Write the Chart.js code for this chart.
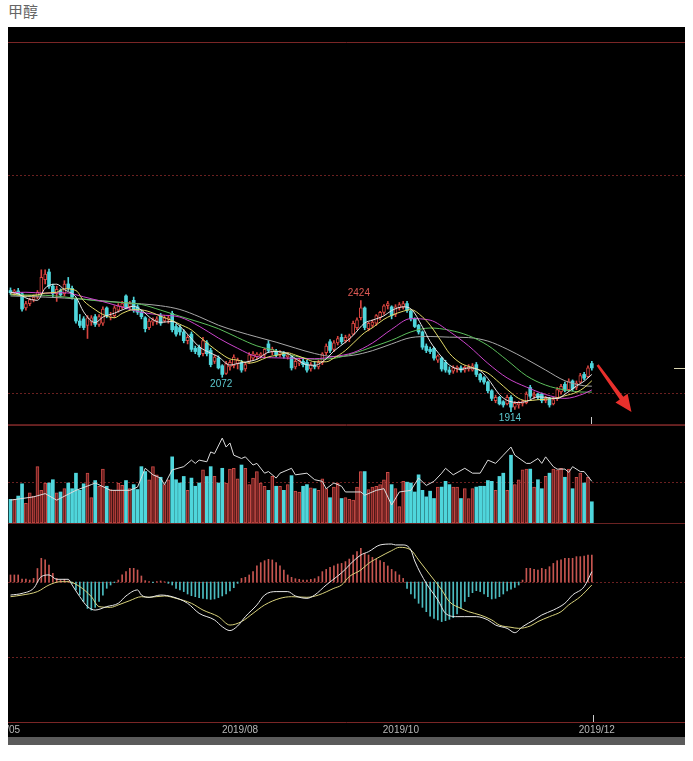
<!DOCTYPE html>
<html><head><meta charset="utf-8">
<script src="https://cdn.jsdelivr.net/npm/chart.js@4.4.1/dist/chart.umd.min.js"></script>
<style>
html,body{margin:0;padding:0;background:#fff;width:693px;height:761px;overflow:hidden}
#title{position:absolute;left:8px;top:0px;font:15px "Noto Sans CJK SC",sans-serif;color:#666;line-height:22px}
#panel{position:absolute;left:8px;top:27px;width:677px;height:718px;background:#000}
#panel canvas{position:absolute;left:0}
#scroll{position:absolute;left:0;top:710px;width:677px;height:8px;background:#5b5b5b}
</style></head><body>
<div id="title">甲醇</div>
<div id="panel">
<canvas id="cPrice" width="677" height="398" style="top:0"></canvas>
<canvas id="cVol" width="677" height="98" style="top:398px"></canvas>
<canvas id="cMacd" width="677" height="214" style="top:496px"></canvas>
<div id="scroll"></div>
</div>
<script>
// ---------- data ----------
const opens = [2470,2460,2468,2455,2390,2410,2428,2440,2455,2520,
2555,2490,2455,2470,2455,2500,2480,2430,2330,2340,
2310,2325,2350,2315,2320,2390,2350,2355,2380,2395,
2445,2395,2425,2395,2370,2345,2300,2325,2330,2355,
2330,2340,2365,2305,2300,2280,2240,2270,2205,2210,
2180,2230,2195,2145,2160,2125,2090,2120,2125,2135,
2140,2110,2145,2160,2165,2170,2175,2225,2190,2190,
2175,2180,2165,2165,2120,2135,2145,2140,2110,2125,
2120,2140,2185,2235,2200,2230,2255,2240,2250,2270,
2300,2345,2390,2295,2310,2320,2345,2370,2400,2395,
2360,2390,2395,2410,2375,2340,2310,2280,2215,2200,
2205,2150,2160,2140,2105,2100,2110,2115,2105,2110,
2105,2130,2085,2070,2050,2010,1965,1980,1960,1950,
1980,1935,1945,1952,1955,2025,1985,1995,1995,1965,
1975,1950,1975,2005,2040,2015,2055,2025,2050,2085,
2075,2135];
const highs = [2482,2475,2480,2460,2420,2435,2450,2470,2565,2565,
2568,2500,2490,2478,2515,2530,2490,2435,2360,2350,
2355,2355,2360,2360,2395,2395,2370,2400,2410,2420,
2450,2420,2440,2405,2380,2350,2340,2345,2350,2365,
2355,2352,2375,2315,2310,2290,2265,2280,2215,2220,
2255,2240,2205,2175,2170,2130,2145,2150,2175,2160,
2150,2140,2185,2190,2185,2185,2205,2240,2210,2200,
2195,2190,2185,2170,2155,2160,2160,2150,2140,2145,
2150,2185,2225,2245,2240,2260,2270,2265,2270,2330,
2345,2424,2395,2325,2335,2360,2375,2405,2420,2400,
2405,2415,2420,2420,2380,2345,2315,2285,2225,2210,
2210,2175,2165,2150,2120,2125,2125,2125,2125,2130,
2135,2140,2090,2075,2055,2015,1990,1985,1965,1990,
1988,1960,1962,1968,2005,2035,2005,2000,2000,1985,
1980,1980,2025,2040,2050,2065,2060,2055,2090,2095,
2125,2145];
const lows = [2452,2448,2450,2375,2380,2400,2418,2432,2450,2500,
2480,2440,2420,2440,2445,2470,2430,2320,2300,2290,
2250,2310,2305,2305,2310,2345,2335,2345,2370,2385,
2385,2380,2370,2360,2340,2280,2290,2310,2315,2310,
2325,2320,2280,2260,2265,2230,2225,2190,2180,2165,
2170,2170,2120,2135,2110,2072,2085,2105,2115,2110,
2095,2100,2135,2150,2155,2160,2165,2185,2175,2165,
2165,2160,2155,2105,2110,2125,2120,2095,2100,2110,
2110,2130,2175,2185,2190,2220,2225,2230,2235,2265,
2290,2335,2290,2285,2300,2310,2335,2360,2385,2340,
2350,2380,2385,2370,2330,2300,2270,2200,2185,2180,
2150,2140,2100,2095,2085,2090,2095,2095,2095,2100,
2100,2075,2050,2040,2000,1965,1955,1945,1935,1945,
1914,1925,1930,1940,1950,1975,1975,1970,1955,1955,
1935,1945,1965,1995,2005,2010,2010,2015,2045,2060,
2070,2105];
const closes = [2460,2468,2455,2385,2410,2428,2440,2462,2530,2545,
2490,2455,2475,2450,2500,2480,2440,2330,2310,2300,
2345,2345,2315,2350,2385,2355,2352,2390,2400,2410,
2390,2410,2380,2370,2350,2295,2330,2335,2340,2320,
2345,2345,2290,2270,2280,2240,2255,2200,2190,2175,
2240,2180,2130,2165,2115,2085,2135,2140,2165,2150,
2105,2130,2175,2180,2178,2180,2200,2195,2200,2175,
2185,2170,2175,2115,2145,2150,2130,2105,2130,2120,
2140,2180,2215,2195,2230,2250,2235,2255,2262,2320,
2335,2390,2300,2320,2325,2355,2370,2400,2410,2355,
2395,2405,2410,2380,2340,2305,2280,2210,2195,2190,
2160,2170,2110,2105,2095,2115,2118,2105,2118,2120,
2125,2085,2060,2050,2010,1975,1980,1950,1945,1980,
1935,1952,1955,1960,1995,1985,1995,1980,1965,1975,
1945,1970,2015,2030,2012,2055,2020,2045,2080,2068,
2115,2115];

const ma5Pts = [[0,2462],[2,2455],[4,2436],[7,2425],[9,2481],[12,2499],[14,2474],[17,2440],[19,2372],[22,2323],[24,2348],[27,2366],[29,2381],[32,2398],[34,2380],[37,2336],[39,2324],[42,2328],[44,2306],[47,2249],[49,2212],[52,2183],[54,2166],[57,2128],[59,2135],[62,2145],[64,2154],[67,2187],[69,2190],[72,2181],[74,2158],[77,2129],[79,2127],[82,2157],[84,2192],[87,2233],[89,2264],[92,2321],[94,2334],[97,2354],[99,2378],[102,2395],[104,2386],[107,2303],[109,2236],[112,2165],[114,2128],[117,2108],[119,2115],[122,2102],[124,2066],[127,1993],[129,1966],[132,1956],[134,1961],[137,1982],[139,1980],[142,1974],[144,1994],[147,2032],[149,2054],[151,2085]];
const ma10Pts = [[0,2455],[4,2445],[7,2450],[9,2458],[12,2462],[14,2478],[17,2470],[19,2423],[22,2382],[24,2360],[27,2345],[29,2365],[32,2382],[34,2381],[37,2367],[39,2352],[42,2332],[44,2315],[47,2289],[49,2259],[52,2216],[54,2189],[57,2156],[59,2151],[62,2137],[64,2144],[67,2166],[69,2172],[72,2184],[74,2174],[77,2155],[79,2143],[82,2143],[84,2160],[87,2195],[89,2228],[92,2277],[94,2299],[97,2338],[99,2356],[102,2375],[104,2382],[107,2349],[109,2311],[112,2234],[114,2182],[117,2136],[119,2122],[122,2105],[124,2091],[127,2047],[129,2016],[132,1975],[134,1964],[137,1969],[139,1971],[142,1978],[144,1987],[147,2003],[149,2024],[151,2056]];
const ma20Pts = [[0,2460],[4,2462],[9,2458],[14,2460],[19,2441],[24,2419],[29,2394],[34,2370],[39,2358],[44,2348],[49,2306],[54,2252],[59,2205],[64,2167],[69,2161],[74,2159],[79,2157],[84,2167],[89,2185],[94,2229],[99,2292],[104,2341],[109,2334],[114,2282],[119,2216],[124,2136],[129,2069],[134,2027],[139,1993],[144,1975],[149,1997],[151,2014]];
const ma30Pts = [[0,2450],[9,2448],[19,2430],[24,2420],[29,2415],[34,2406],[39,2380],[44,2352],[49,2325],[54,2295],[59,2254],[64,2216],[69,2194],[74,2169],[79,2155],[84,2159],[89,2181],[94,2211],[99,2242],[104,2280],[109,2298],[114,2288],[119,2263],[124,2218],[129,2150],[134,2079],[139,2036],[144,2014],[149,2004],[151,2004]];
const ma40Pts = [[0,2445],[9,2440],[19,2430],[29,2415],[39,2400],[44,2383],[49,2350],[54,2311],[59,2282],[64,2257],[69,2233],[74,2206],[79,2181],[84,2167],[89,2173],[94,2194],[99,2225],[104,2254],[109,2259],[114,2256],[119,2254],[124,2238],[129,2201],[134,2155],[139,2105],[144,2056],[149,2033],[151,2031]];

const volumes = [29,29,33,48,24,37,33,69,40,49,
49,53,37,38,42,49,42,61,40,48,
61,31,52,45,66,45,41,40,49,46,
52,42,47,41,69,63,53,69,59,56,
47,53,81,53,49,57,40,55,45,49,
65,57,69,57,49,67,49,66,67,54,
71,67,47,55,63,49,45,40,57,45,
45,40,47,58,39,38,45,47,43,42,
40,54,42,31,44,49,30,31,29,28,
44,63,63,41,44,45,47,53,62,47,
42,20,51,50,49,38,59,40,32,39,
30,44,44,51,47,44,44,30,42,30,
42,44,45,45,52,51,40,57,61,40,
83,47,53,65,66,66,44,53,42,57,
61,66,65,67,56,66,42,56,61,49,
56,26];
const openInterestPts = [[0,28],[6,32],[9,36],[12,28],[17,40],[21,47],[22,49],[26,40],[31,40],[33,44],[35,67],[37,59],[39,55],[40,47],[42,65],[45,69],[47,77],[48,73],[49,77],[51,75],[52,87],[53,85],[55,104],[56,93],[57,98],[58,83],[60,79],[61,81],[63,71],[64,73],[66,61],[67,63],[69,55],[70,61],[73,67],[74,59],[77,61],[79,53],[81,51],[82,42],[84,49],[86,45],[87,38],[91,38],[92,34],[95,40],[97,42],[99,22],[101,38],[104,40],[106,55],[108,46],[110,51],[112,61],[113,67],[115,59],[118,67],[120,61],[122,61],[124,77],[126,73],[128,83],[130,93],[131,83],[134,73],[135,73],[137,79],[138,73],[139,81],[141,69],[142,66],[144,66],[145,62],[146,69],[148,63],[149,63],[151,51]];

const macdHist = [4.7,4.7,4.7,2,2,1.3,2.4,9,15.8,14.7,
11.3,5.8,2.4,1.3,1.8,0.7,-0.9,-5.3,-8.7,-13,
-17.6,-18.7,-16.9,-13,-8.7,-4.2,-2,-0.4,1.3,4.7,
6.9,9.1,9.1,8,4,0.9,0.2,-0.4,0.3,0.7,
0.2,-0.9,-2,-4.2,-5.3,-6.4,-8,-9.1,-9.8,-10.4,
-10.9,-11.3,-11.6,-11.3,-10.4,-9.3,-8,-6,-3.8,-0.9,
2.4,3.1,4.7,6.9,10.7,12.9,14.2,15.1,14.7,12.9,
10.7,8,4.7,3.1,2.2,1.8,1.3,1.3,1.8,2.2,
3.6,6.9,8.4,9.8,10.7,12,12.4,13.6,15.3,18,
20.2,22.4,19.1,18,16.4,15.1,14.2,13.1,10.7,8.4,
6.9,4.7,2.4,-4.2,-8,-10.9,-14.2,-16.9,-19.8,-22.7,
-24.2,-25.3,-26.4,-25.8,-24.9,-23.8,-21.3,-17.6,-13,-9.8,
-7.1,-5.8,-6.4,-8,-9.8,-11.3,-10.9,-9.8,-8,-6,
-4.7,-3.6,-2,1.3,9.1,9.1,8.4,8,9.1,8.4,
10.2,12.4,14.2,14.7,15.8,15.8,15.8,16.9,16.9,17.3,
18,18];
const difPts = [[0,-8.7],[3,-7.6],[6,-4.2],[8,3.6],[10,4.7],[12,1.8],[15,1.8],[16,-2],[18,-9.8],[20,-16.4],[22,-18.7],[25,-16.4],[28,-14.2],[30,-9.3],[33,-5.3],[34,-8.7],[36,-10.2],[39,-8.7],[42,-9.8],[46,-14.2],[49,-20.9],[53,-25.3],[55,-29.8],[57,-32.4],[59,-29.3],[61,-23.1],[64,-15.3],[66,-8.7],[69,-6.4],[72,-6.4],[74,-9.3],[77,-10.9],[79,-8.7],[82,-2],[85,4],[87,8.5],[88,11.3],[91,18],[93,20.2],[96,24.7],[99,25.3],[100,24.7],[102,24.7],[104,21.3],[105,14],[108,-0.9],[111,-12],[113,-20.9],[116,-23.1],[118,-23.1],[121,-23.1],[124,-25.3],[126,-28.7],[129,-30.9],[131,-33.8],[133,-29.8],[136,-25.3],[138,-22],[141,-18.7],[144,-14.2],[146,-8.7],[149,-3.1],[151,6.9]];
const deaPts = [[0,-9.8],[3,-8.7],[7,-6.4],[10,-2],[13,0.2],[15,0.2],[18,-3.1],[21,-9.8],[23,-16.4],[26,-16.9],[28,-15.3],[31,-12.4],[34,-9.8],[36,-10.2],[40,-9.3],[43,-10.9],[47,-14.2],[50,-18.7],[54,-23.1],[57,-28.7],[60,-26.4],[63,-20.9],[66,-15.3],[70,-10.9],[73,-9.8],[77,-10.2],[80,-8.7],[84,-4.2],[86,-2],[88,3.6],[91,8],[93,12.4],[96,16.9],[99,20.9],[101,23.1],[104,21.3],[106,14.7],[109,4.7],[112,-5.3],[114,-13.1],[117,-17.6],[119,-19.8],[122,-22],[125,-25.3],[127,-28.7],[130,-30.2],[132,-30.9],[135,-29.3],[137,-26.4],[140,-23.1],[143,-19.8],[145,-15.3],[148,-9.8],[151,-2]];

const dateTickIdx = [-2.2, 59.6, 101.4, 152.3];
const dateTickLabels = ['2019/05','2019/08','2019/10','2019/12'];
const priceGridValues = [2000, 3000];
const volGridValues = [50];
const macdGridValues = [0, -50];
const extremeMarks = [{i:91, kind:'high'}, {i:55, kind:'low'}, {i:130, kind:'low'}];

// ---------- styling ----------
const X_MIN = -0.65, X_MAX = 175.2;
const RED = '#d7443f', CYAN = '#4fd6dc';
const GRID_DOT = '#6a2020', BORDER = '#7a2626';
const isUp = closes.map((c, i) => c >= opens[i]);
const pts = arr => arr.map(p => ({x: p[0], y: p[1]}));

function hline(ctx, x0, x1, y, color, dash, w) {
  ctx.save();
  ctx.strokeStyle = color; ctx.lineWidth = w || 1; ctx.setLineDash(dash || []);
  ctx.beginPath(); ctx.moveTo(x0, Math.round(y) + 0.5); ctx.lineTo(x1, Math.round(y) + 0.5); ctx.stroke();
  ctx.restore();
}
function vline(ctx, x, y0, y1, color) {
  ctx.save(); ctx.strokeStyle = color; ctx.lineWidth = 1;
  ctx.beginPath(); ctx.moveTo(Math.round(x) + 0.5, y0); ctx.lineTo(Math.round(x) + 0.5, y1); ctx.stroke();
  ctx.restore();
}
function lineDs(data, color, yAxisID, mono) {
  return {type: 'line', data: pts(data), borderColor: color, borderWidth: 1, pointRadius: 0,
    fill: false, yAxisID: yAxisID, order: 0, cubicInterpolationMode: mono ? 'monotone' : 'default', tension: 0};
}
function makeChart(id, datasets, yScales, plugin, padBottom) {
  const scales = {x: {type: 'linear', min: X_MIN, max: X_MAX, offset: false, display: false}};
  Object.assign(scales, yScales);
  return new Chart(document.getElementById(id), {
    type: 'bar',
    data: {datasets},
    options: {
      responsive: false, animation: false, devicePixelRatio: 1, events: [],
      layout: {padding: {left: 0, right: 0, top: 0, bottom: padBottom || 0}},
      plugins: {legend: {display: false}, tooltip: {enabled: false}},
      scales
    },
    plugins: [plugin]
  });
}

// ---------- price panel ----------
const pricePlugin = {
  id: 'priceDeco',
  beforeDatasetsDraw(chart) {
    const {ctx, width, scales: {y}} = chart;
    hline(ctx, 0, width, 15, BORDER);
    priceGridValues.forEach(v => hline(ctx, 0, width, y.getPixelForValue(v), GRID_DOT, [2, 2]));
    hline(ctx, 0, width, chart.height - 1, '#5e1e1e');
  },
  afterDatasetsDraw(chart) {
    const {ctx, width, height, scales: {x, y}} = chart;
    ctx.save();
    ctx.font = '10px "Liberation Sans", Arial, sans-serif';
    ctx.textAlign = 'center';
    extremeMarks.forEach(m => {
      const px = x.getPixelForValue(m.i);
      if (m.kind === 'high') {
        ctx.fillStyle = '#e05a55'; ctx.textBaseline = 'bottom';
        ctx.fillText(String(highs[m.i]), px - 2, y.getPixelForValue(highs[m.i]) - 2);
      } else {
        ctx.fillStyle = '#5cc9d0'; ctx.textBaseline = 'top';
        ctx.fillText(String(lows[m.i]), px - 1, y.getPixelForValue(lows[m.i]) + 2);
      }
    });
    // arrow annotation
    const x0 = x.getPixelForValue(152.5), y0 = y.getPixelForValue(2128);
    const x1 = x.getPixelForValue(161.3), y1 = y.getPixelForValue(1913);
    const dx = x1 - x0, dy = y1 - y0, L = Math.hypot(dx, dy), ux = dx / L, uy = dy / L, nx = -uy, ny = ux;
    const hl = 17, hw = 7.5, sw = 2.2;
    const bx = x1 - ux * hl, by = y1 - uy * hl;
    ctx.fillStyle = '#e8302c';
    ctx.beginPath();
    ctx.moveTo(x0 + nx * 1.2, y0 + ny * 1.2);
    ctx.lineTo(bx + nx * sw, by + ny * sw);
    ctx.lineTo(bx + nx * hw, by + ny * hw);
    ctx.lineTo(x1, y1);
    ctx.lineTo(bx - nx * hw, by - ny * hw);
    ctx.lineTo(bx - nx * sw, by - ny * sw);
    ctx.lineTo(x0 - nx * 1.2, y0 - ny * 1.2);
    ctx.closePath(); ctx.fill();
    // last price marker & current-bar tick
    const last = closes.length - 1;
    hline(ctx, width - 11, width, y.getPixelForValue(closes[last]), '#d8d4b0');
    vline(ctx, x.getPixelForValue(last) - 1, height - 8, height - 1, '#cccccc');
    ctx.restore();
  }
};
makeChart('cPrice', [
  lineDs(ma5Pts, '#e6e6e6', 'y', true),
  lineDs(ma10Pts, '#e4dc6a', 'y', true),
  lineDs(ma20Pts, '#cc44cc', 'y', true),
  lineDs(ma30Pts, '#5cbf5c', 'y', true),
  lineDs(ma40Pts, '#a8a8a8', 'y', true),
  {type: 'bar', data: opens.map((o, i) => ({x: i, y: [o, closes[i]]})), grouped: false, barThickness: 3,
   backgroundColor: isUp.map(u => u ? '#000' : CYAN), borderColor: isUp.map(u => u ? RED : CYAN),
   borderWidth: isUp.map(u => u ? 1 : 0), borderSkipped: false, order: 1},
  {type: 'bar', data: lows.map((l, i) => ({x: i, y: [l, highs[i]]})), grouped: false, barThickness: 1,
   backgroundColor: isUp.map(u => u ? RED : CYAN), borderWidth: 0, order: 2}
], {y: {type: 'linear', min: 1853, max: 3679, display: false}}, pricePlugin, 0);

// ---------- volume panel ----------
const volPlugin = {
  id: 'volDeco',
  beforeDatasetsDraw(chart) {
    const {ctx, width, scales: {y}} = chart;
    hline(ctx, 0, width, 0, '#6a2222');
    volGridValues.forEach(v => hline(ctx, 0, width, y.getPixelForValue(v), GRID_DOT, [2, 2]));
  }
};
makeChart('cVol', [
  lineDs(openInterestPts, '#dcdcdc', 'yOI', false),
  {type: 'bar', data: volumes.map((v, i) => ({x: i, y: v})), grouped: false, barThickness: 3,
   backgroundColor: isUp.map(u => u ? '#6a1e1e' : CYAN), borderColor: isUp.map(u => u ? '#c94a45' : CYAN),
   borderWidth: isUp.map(u => u ? 1 : 0), borderSkipped: false, order: 1}
], {
  y: {type: 'linear', min: 0, max: 120, display: false},
  yOI: {type: 'linear', min: 0, max: 120, display: false}
}, volPlugin, 0);

// ---------- MACD panel ----------
const macdPlugin = {
  id: 'macdDeco',
  beforeDatasetsDraw(chart) {
    const {ctx, width, chartArea, scales: {y}} = chart;
    hline(ctx, 0, width, 0, '#6a2222');
    macdGridValues.forEach(v => hline(ctx, 0, width, y.getPixelForValue(v), GRID_DOT, [2, 2]));
    hline(ctx, 0, width, chartArea.bottom, BORDER);
  },
  afterDatasetsDraw(chart) {
    const {ctx, chartArea, scales: {x}} = chart;
    ctx.save();
    ctx.font = '10px "Liberation Sans", Arial, sans-serif';
    ctx.fillStyle = '#b8b8b8'; ctx.textAlign = 'center'; ctx.textBaseline = 'middle';
    dateTickIdx.forEach((t, k) => ctx.fillText(dateTickLabels[k], x.getPixelForValue(t), chartArea.bottom + 8));
    vline(ctx, x.getPixelForValue(closes.length - 1) + 1, chartArea.bottom - 7, chartArea.bottom, '#cccccc');
    ctx.restore();
  }
};
makeChart('cMacd', [
  lineDs(difPts, '#e8e8e8', 'y', true),
  lineDs(deaPts, '#d8d27c', 'y', true),
  {type: 'bar', data: macdHist.map((v, i) => ({x: i, y: v})), grouped: false, barThickness: 1,
   backgroundColor: macdHist.map(v => v >= 0 ? '#c65550' : '#4cbcc0'), borderWidth: 0, order: 1}
], {y: {type: 'linear', min: -93.33, max: 39.33, display: false}}, macdPlugin, 15);
</script>
</body></html>
